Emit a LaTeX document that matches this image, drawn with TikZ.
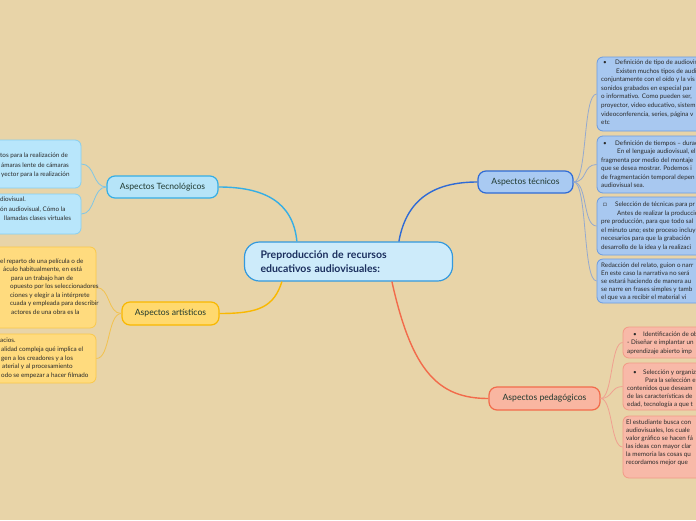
\documentclass[tikz,border=0pt]{standalone}
\usepackage{fontspec}
\setmainfont{Lato}
\usetikzlibrary{calc}
\definecolor{bg}{HTML}{E8D4A8}
\definecolor{cfill}{HTML}{CDEBFA}
\definecolor{cdraw}{HTML}{3399DD}
\definecolor{ctext}{HTML}{1B2F5E}
\definecolor{lbl}{HTML}{1F382E}
\definecolor{stxt}{HTML}{2A2A2A}
\definecolor{tecfill}{HTML}{B6E4F8}
\definecolor{tecdraw}{HTML}{35AEE5}
\definecolor{tcnfill}{HTML}{A9CAF2}
\definecolor{tcndraw}{HTML}{2F6BD6}
\definecolor{artfill}{HTML}{FFD96E}
\definecolor{artdraw}{HTML}{F9B800}
\definecolor{pedfill}{HTML}{F9B6A1}
\definecolor{peddraw}{HTML}{F26B4B}
\definecolor{stecfill}{HTML}{B8E6FB}
\definecolor{stecdraw}{HTML}{86CFF0}
\definecolor{stecline}{HTML}{7FC6E6}
\definecolor{stcnfill}{HTML}{A8C8F0}
\definecolor{stcndraw}{HTML}{6C9BE0}
\definecolor{stcnline}{HTML}{94A9CF}
\definecolor{sartfill}{HTML}{FFDB7E}
\definecolor{sartdraw}{HTML}{FAC84A}
\definecolor{sartline}{HTML}{F2C24E}
\definecolor{spedfill}{HTML}{F8B9A8}
\definecolor{speddraw}{HTML}{F29A86}
\definecolor{spedline}{HTML}{F0A090}
\newcounter{lnc}
\newcommand\tline[3]{\stepcounter{lnc}\node[st,anchor=base west] (t\arabic{lnc}) at (#1,#2) {#3};}
\begin{document}
\begin{tikzpicture}[x=1pt,y=-1pt,
  central/.style={draw=cdraw,fill=cfill,line width=1.2pt,rounded corners=15pt,minimum width=208,minimum height=39,
    text width=176pt,inner xsep=16pt,align=left,text=ctext,font=\fontsize{10.5}{14}\selectfont\bfseries},
  branch/.style={line width=1.2pt,rounded corners=8pt,text=lbl,font=\fontsize{8.6}{10}\selectfont,inner sep=0pt},
  sub/.style={line width=0.8pt,rounded corners=6pt,inner sep=0pt},
  st/.style={inner sep=0pt,text=stxt,font=\fontsize{6.3}{8}\selectfont},
  mline/.style={line width=1.4pt},
  sline/.style={line width=0.8pt}]
\useasboundingbox (0,0) rectangle (696,520);
\fill[bg] (0,0) rectangle (696,520);
\clip (0,0) rectangle (696,520);

% main nodes
\node[central] (c) at (348.5,261.5) {Preproducción de recursos\\educativos audiovisuales:};
\node[branch,draw=tecdraw,fill=tecfill,minimum width=111,minimum height=22] (tec) at (162.5,187) {Aspectos Tecnológicos};
\node[branch,draw=tcndraw,fill=tcnfill,minimum width=95,minimum height=22] (tcn) at (525.5,182) {Aspectos técnicos};
\node[branch,draw=artdraw,fill=artfill,minimum width=97,minimum height=23] (art) at (170.5,313.5) {Aspectos artísticos};
\node[branch,draw=peddraw,fill=pedfill,minimum width=111,minimum height=23] (ped) at (544.5,398.5) {Aspectos pedagógicos};

% sub boxes
\node[sub,draw=stecdraw,fill=stecfill,minimum width=101,minimum height=48] (tb1) at (30.5,164) {};
\node[sub,draw=stecdraw,fill=stecfill,minimum width=101,minimum height=40] (tb2) at (30.5,214) {};
\node[sub,draw=sartdraw,fill=sartfill,minimum width=116,minimum height=81] (ab1) at (38,287.5) {};
\node[sub,draw=sartdraw,fill=sartfill,minimum width=116,minimum height=49] (ab2) at (38,358.5) {};
\node[sub,draw=stcndraw,fill=stcnfill,minimum width=123,minimum height=74] (kb1) at (658.5,94) {};
\node[sub,draw=stcndraw,fill=stcnfill,minimum width=123,minimum height=57] (kb2) at (658.5,164.5) {};
\node[sub,draw=stcndraw,fill=stcnfill,minimum width=123,minimum height=58] (kb3) at (658.5,226) {};
\node[sub,draw=stcndraw,fill=stcnfill,minimum width=123,minimum height=44] (kb4) at (658.5,281) {};
\node[sub,draw=speddraw,fill=spedfill,minimum width=97,minimum height=31] (pb1) at (671.5,342.5) {};
\node[sub,draw=speddraw,fill=spedfill,minimum width=97,minimum height=47] (pb2) at (671.5,386.5) {};
\node[sub,draw=speddraw,fill=spedfill,minimum width=97,minimum height=62] (pb3) at (671.5,447) {};

% main connectors
\draw[mline,tecdraw] ($(c.north west)+(53,0)$) .. controls +(-4,-40) and +(45,0) .. (tec.east);
\draw[mline,tcndraw] ($(c.north west)+(155,0)$) .. controls +(8,-45) and +(-40,0) .. (tcn.west);
\draw[mline,artdraw] ($(c.south west)+(38,0)$) .. controls +(-8,25) and +(40,0) .. (art.east);
\draw[mline,peddraw] ($(c.south west)+(148,0)$) .. controls +(20,90) and +(-50,0) .. (ped.west);

% sub connectors
\foreach \b in {tb1,tb2}{\draw[sline,stecline] (tec.west) .. controls +(-14,0) and +(14,0) .. (\b.east);}
\foreach \b in {ab1,ab2}{\draw[sline,sartline] (art.west) .. controls +(-14,0) and +(14,0) .. (\b.east);}
\foreach \b in {kb1,kb2,kb3,kb4}{\draw[sline,stcnline] (tcn.east) .. controls +(14,0) and +(-14,0) .. (\b.west);}
\foreach \b in {pb1,pb2,pb3}{\draw[sline,spedline] (ped.east) .. controls +(12,0) and +(-12,0) .. (\b.west);}

% text: left blue
\tline{0}{157.5}{tos para la realización de}
\tline{1}{167}{ámaras lente de cámaras}
\tline{1}{176}{yector para la realización}
\tline{0}{201.5}{diovisual.}
\tline{0}{211}{ón audiovisual, Cómo la}
\tline{4}{220.5}{llamadas clases virtuales}
% left yellow
\tline{0}{263}{el reparto de una película o de}
\tline{3}{271.5}{áculo habitualmente, en está}
\tline{11}{280}{para un trabajo han de}
\tline{10}{288.5}{opuesto por los seleccionadores}
\tline{10}{297}{ciones y elegir a la intérprete}
\tline{10}{305.5}{cuada y empleada para describir}
\tline{11}{314}{actores de una obra es la}
\tline{0}{342}{acios.}
\tline{1}{351}{alidad compleja qué implica el}
\tline{1}{360}{gen a los creadores y a los}
\tline{2}{368.5}{aterial y al procesamiento}
\tline{1}{377}{odo se empezar a hacer filmado}
% right blue
\tline{603}{64.5}{•}
\tline{615}{64.5}{Definición de tipo de audiovis}
\tline{616}{73.1}{Existen muchos tipos de audi}
\tline{601}{81.7}{conjuntamente con el oído y la vis}
\tline{601}{90.3}{sonidos grabados en especial par}
\tline{601}{98.9}{o informativo. Como pueden ser,}
\tline{601}{107.5}{proyector, video educativo, sistem}
\tline{601}{116.1}{videoconferencia, series, página v}
\tline{601}{124.7}{etc}
\tline{603}{145}{•}
\tline{615}{145}{Definición de tiempos – durac}
\tline{617}{153.5}{En el lenguaje audiovisual, el}
\tline{601}{162}{fragmenta por medio del montaje}
\tline{601}{170.5}{que se desea mostrar. Podemos i}
\tline{601}{179}{de fragmentación temporal depen}
\tline{601}{187.5}{audiovisual sea.}
\tline{603}{206.5}{□}
\tline{615}{206.5}{Selección de técnicas para pr}
\tline{617}{215}{Antes de realizar la producció}
\tline{601}{223.5}{pre producción, para que todo sal}
\tline{601}{232}{el minuto uno; este proceso incluy}
\tline{601}{240.5}{necesarios para que la grabación}
\tline{601}{249}{desarrollo de la idea y la realizaci}
\tline{601}{267}{Redacción del relato, guion o narr}
\tline{601}{275}{En este caso la narrativa no será}
\tline{601}{283}{se estará haciendo de manera au}
\tline{601}{291}{se narre en frases simples y tamb}
\tline{601}{299}{el que va a recibir el material vi}
% right red
\tline{633}{336}{•}
\tline{643}{336}{Identificación de ob}
\tline{627}{344.5}{- Diseñar e implantar un}
\tline{627}{353}{aprendizaje abierto imp}
\tline{633}{374}{•}
\tline{643}{374}{Selección y organiz}
\tline{645}{382}{Para la selección e}
\tline{627}{390}{contenidos que deseam}
\tline{627}{398}{de las características de}
\tline{627}{406}{edad, tecnología a que t}
\tline{626}{424}{El estudiante busca con}
\tline{626}{432}{audiovisuales, los cuale}
\tline{626}{440}{valor gráfico se hacen fá}
\tline{626}{448}{las ideas con mayor clar}
\tline{626}{456}{la memoria las cosas qu}
\tline{626}{464}{recordamos mejor que}
\end{tikzpicture}
\end{document}
